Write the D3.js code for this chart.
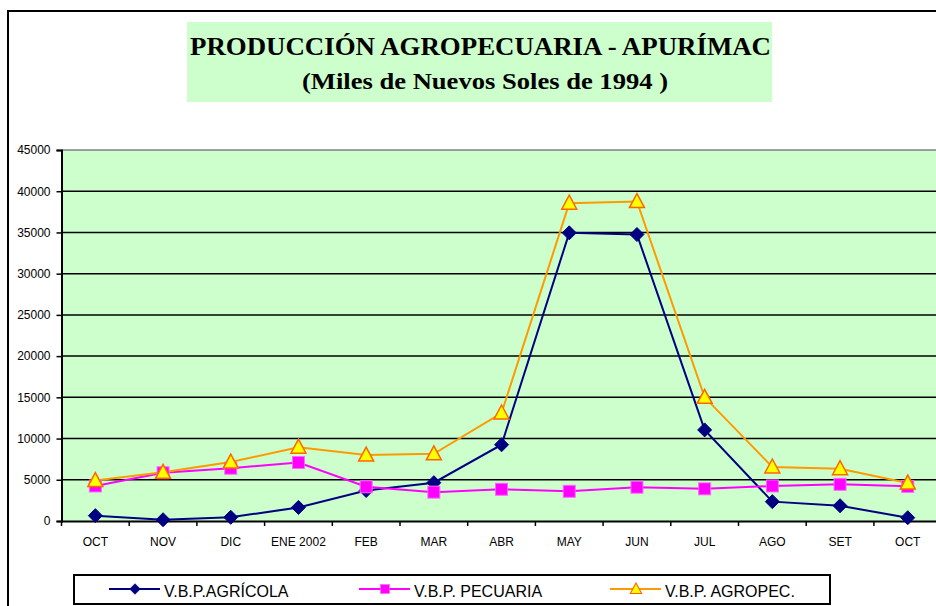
<!DOCTYPE html>
<html>
<head>
<meta charset="utf-8">
<script src="https://cdn.jsdelivr.net/npm/d3@7"></script>
<style>
  body { margin: 0; background: #fff; }
  .axis text { font-family: "Liberation Sans", Arial, sans-serif; font-size: 12px; fill: #000; }
  .axis path, .axis line { stroke: #000; }
  .title { font-family: "Liberation Serif", "Times New Roman", serif; font-weight: bold; fill: #000; }
</style>
</head>
<body>
<div id="chart"></div>
<script>
'use strict';
// categories and series (miles de nuevos soles de 1994)
var months = ['OCT', 'NOV', 'DIC', 'ENE 2002', 'FEB', 'MAR', 'ABR', 'MAY', 'JUN', 'JUL', 'AGO', 'SET', 'OCT'];
var agricola = [650, 150, 450, 1650, 3700, 4650, 9250, 34950, 34750, 11050, 2350, 1850, 400];
var pecuaria = [4250, 5850, 6400, 7100, 4150, 3500, 3850, 3600, 4100, 3900, 4250, 4450, 4200];
var agropec = [4900, 5900, 7150, 8950, 8000, 8150, 13100, 38550, 38750, 15000, 6550, 6350, 4600];
var yTicks = [0, 5000, 10000, 15000, 20000, 25000, 30000, 35000, 40000, 45000];
var seriesNames = ['V.B.P.AGRÍCOLA', 'V.B.P. PECUARIA', 'V.B.P. AGROPEC.'];

var W = 936, H = 606;
var plot = {left: 61.5, top: 150, bottom: 521, band: 67.7};

var svg = d3.select('#chart').append('svg')
  .attr('width', W).attr('height', H);

// outer frame
svg.append('rect')
  .attr('x', 8).attr('y', 11)
  .attr('width', W + 20).attr('height', H + 20)
  .attr('fill', 'none').attr('stroke', '#000').attr('stroke-width', 2);

// title block
svg.append('rect')
  .attr('x', 187).attr('y', 22).attr('width', 585).attr('height', 80)
  .attr('fill', '#ccffcc');
svg.append('text')
  .attr('class', 'title')
  .attr('x', 190).attr('y', 54.5)
  .attr('textLength', 581).attr('lengthAdjust', 'spacingAndGlyphs')
  .style('font-size', '25px')
  .text('PRODUCCIÓN AGROPECUARIA - APURÍMAC');
svg.append('text')
  .attr('class', 'title')
  .attr('x', 302).attr('y', 89)
  .attr('textLength', 366).attr('lengthAdjust', 'spacingAndGlyphs')
  .style('font-size', '23px')
  .text('(Miles de Nuevos Soles de 1994 )');

var x = d3.scaleBand()
  .domain(d3.range(months.length))
  .range([plot.left, plot.left + plot.band * months.length]);
var y = d3.scaleLinear().domain([0, 45000]).range([plot.bottom, plot.top]);
var cx = function(i) { return x(i) + x.bandwidth() / 2; };

// plot background
svg.append('rect')
  .attr('x', plot.left).attr('y', plot.top)
  .attr('width', x.range()[1] - plot.left).attr('height', plot.bottom - plot.top)
  .attr('fill', '#ccffcc');

// gridlines
svg.append('g').selectAll('line')
  .data(yTicks.filter(function(d) { return d > 0; }))
  .enter().append('line')
  .attr('x1', plot.left).attr('x2', x.range()[1])
  .attr('y1', function(d) { return y(d); }).attr('y2', function(d) { return y(d); })
  .attr('stroke', function(d) { return d === 45000 ? '#808080' : '#000'; })
  .attr('stroke-width', 1.5);

// y axis
svg.append('g')
  .attr('class', 'axis y-axis')
  .attr('transform', 'translate(' + plot.left + ',0)')
  .call(d3.axisLeft(y).tickValues(yTicks).tickSize(5).tickPadding(6).tickFormat(d3.format('d')))
  .call(function(g) { g.select('.domain').attr('stroke-width', 2); g.selectAll('.tick line').attr('stroke-width', 1.5); });

// x axis: labels centred, ticks on band edges
var xAxis = svg.append('g')
  .attr('class', 'axis x-axis')
  .attr('transform', 'translate(0,' + plot.bottom + ')')
  .call(d3.axisBottom(x).tickSize(0).tickPadding(16).tickFormat(function(i) { return months[i]; }));
xAxis.select('.domain').attr('stroke-width', 2);
xAxis.selectAll('.edge')
  .data(d3.range(months.length + 1))
  .enter().append('line')
  .attr('class', 'edge')
  .attr('x1', function(i) { return plot.left + i * x.step(); })
  .attr('x2', function(i) { return plot.left + i * x.step(); })
  .attr('y1', 0).attr('y2', 5)
  .attr('stroke', '#000').attr('stroke-width', 1.5);

var line = d3.line()
  .x(function(d, i) { return cx(i); })
  .y(function(d) { return y(d); });

var series = [
  {name: seriesNames[0], values: agricola, color: '#000080', marker: 'diamond'},
  {name: seriesNames[1], values: pecuaria, color: '#ff00ff', marker: 'square'},
  {name: seriesNames[2], values: agropec, color: '#ff9900', marker: 'triangle'}
];

function drawMarker(g, type) {
  if (type === 'diamond') {
    g.append('path').attr('d', 'M0,-7L7,0L0,7L-7,0Z').attr('fill', '#000080').attr('stroke', '#000080');
  } else if (type === 'square') {
    g.append('rect').attr('x', -6).attr('y', -6).attr('width', 12).attr('height', 12)
      .attr('fill', '#ff00ff').attr('stroke', '#ff66ff').attr('stroke-width', 1);
  } else {
    g.append('path').attr('d', 'M0,-8L7.5,6L-7.5,6Z')
      .attr('fill', '#ffff00').attr('stroke', '#ff6600').attr('stroke-width', 1.5);
  }
}

series.forEach(function(s) {
  svg.append('path')
    .datum(s.values)
    .attr('fill', 'none').attr('stroke', s.color).attr('stroke-width', 2)
    .attr('d', line);
});
series.forEach(function(s) {
  svg.append('g').selectAll('g')
    .data(s.values).enter().append('g')
    .attr('transform', function(d, i) { return 'translate(' + cx(i) + ',' + y(d) + ')'; })
    .each(function() { drawMarker(d3.select(this), s.marker); });
});

// legend
var legend = svg.append('g');
legend.append('rect')
  .attr('x', 74).attr('y', 575).attr('width', 756).attr('height', 29)
  .attr('fill', '#fff').attr('stroke', '#000').attr('stroke-width', 2);
var legendX = [109, 359, 610];
series.forEach(function(s, k) {
  var g = legend.append('g').attr('transform', 'translate(' + legendX[k] + ',589)');
  g.append('line').attr('x1', 0).attr('x2', 51).attr('stroke', s.color).attr('stroke-width', 2);
  var m = g.append('g').attr('transform', 'translate(26,0) scale(0.75)');
  drawMarker(m, s.marker);
  g.append('text')
    .attr('x', 55).attr('y', 8)
    .style('font-family', '"Liberation Sans", Arial, sans-serif').style('font-size', '16px')
    .text(s.name);
});
</script>
</body>
</html>
